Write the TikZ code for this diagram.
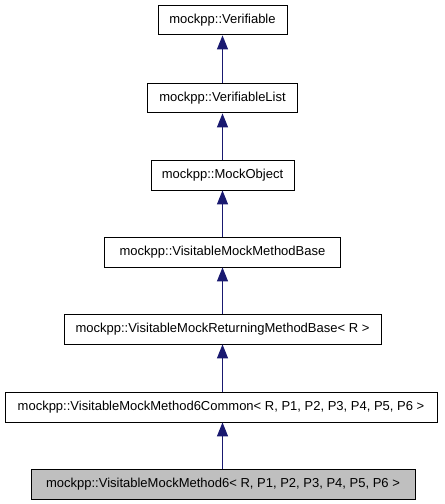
\documentclass[tikz,border=0pt]{standalone}
\usepackage{fontspec}
\setmainfont{Liberation Sans}
\usetikzlibrary{arrows.meta}
\definecolor{edgeblue}{HTML}{191970}
\begin{document}
\begin{tikzpicture}[x=1bp,y=-1bp,
  cls/.style={draw=black, line width=0.9bp, fill=white, minimum height=29.5bp, inner sep=0pt, anchor=north, font=\fontsize{13bp}{15bp}\selectfont},
  inh/.style={draw=edgeblue, line width=1.1bp, -{Triangle[length=14bp,width=11bp]}, fill=none}]
\useasboundingbox (0,0) rectangle (445,504);
\node[cls, minimum width=129bp] (v) at (222.5,5) {mockpp::Verifiable};
\node[cls, minimum width=150bp] (vl) at (222.5,83) {mockpp::VerifiableList};
\node[cls, minimum width=143bp] (mo) at (222.5,160) {mockpp::MockObject};
\node[cls, minimum width=236bp] (vb) at (222.5,237) {mockpp::VisitableMockMethodBase};
\node[cls, minimum width=317bp] (vr) at (222.5,314) {mockpp::VisitableMockReturningMethodBase< R >};
\node[cls, minimum width=432bp] (vc) at (221,392) {mockpp::VisitableMockMethod6Common< R, P1, P2, P3, P4, P5, P6 >};
\node[cls, minimum width=384bp, fill=black!25] (vm) at (223,469) {mockpp::VisitableMockMethod6< R, P1, P2, P3, P4, P5, P6 >};
\draw[inh] (vl.north -| v.south) -- (v.south);
\draw[inh] (mo.north -| vl.south) -- (vl.south);
\draw[inh] (vb.north -| mo.south) -- (mo.south);
\draw[inh] (vr.north -| vb.south) -- (vb.south);
\draw[inh] (vc.north -| vr.south) -- (vr.south);
\draw[inh] (vm.north -| vr.south) -- (vc.south -| vr.south);
\end{tikzpicture}
\end{document}
